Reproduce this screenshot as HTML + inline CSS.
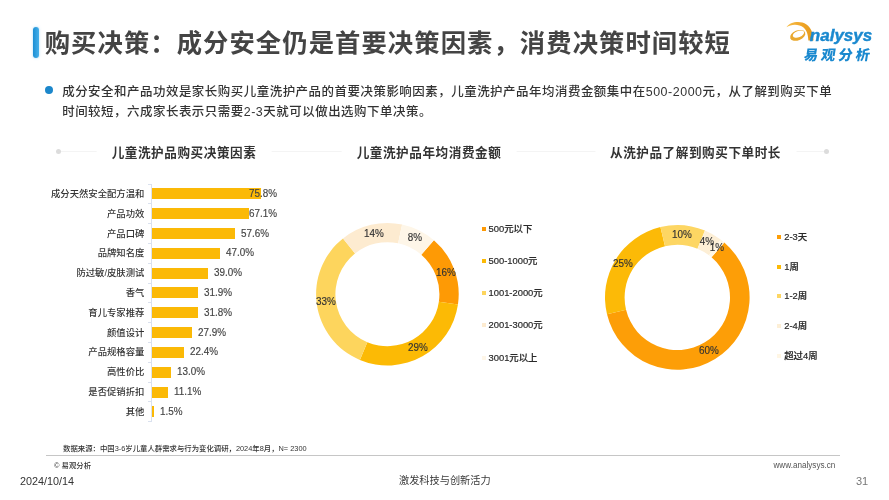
<!DOCTYPE html>
<html lang="zh"><head><meta charset="utf-8"><title>购买决策</title>
<style>
html,body{margin:0;padding:0;background:#fff;}
body{width:889px;height:500px;position:relative;overflow:hidden;font-family:"Liberation Sans","Noto Sans CJK SC",sans-serif;color:#333;font-weight:500;}
.abs{position:absolute;white-space:nowrap;}
.tbar{position:absolute;left:32.5px;top:27.1px;width:6.7px;height:30.9px;border-radius:3.3px;background:linear-gradient(90deg,#1b8ed4,#45b0ea);box-shadow:0 0 2.5px rgba(90,185,240,0.55);}
.title{left:44.7px;top:24.3px;font-size:25.3px;font-weight:bold;color:#444;line-height:38px;letter-spacing:1.1px;}
.dot{position:absolute;left:45.4px;top:86.3px;width:7.8px;height:7.8px;border-radius:50%;background:#1c87cb;}
.sub{left:62.2px;letter-spacing:0.53px;font-size:12.45px;line-height:20px;color:#333;}
.ct{font-size:12.6px;letter-spacing:0.56px;font-weight:bold;color:#333;line-height:18px;text-align:center;transform:translateX(-50%);}
.bl{position:absolute;right:744.6px;font-size:9.35px;line-height:16px;white-space:nowrap;color:#333;}
.bar{position:absolute;left:152px;height:11px;background:#FBB906;}
.bv{position:absolute;font-size:10.1px;line-height:16px;color:#444;white-space:nowrap;transform-origin:0 50%;transform:scaleX(0.98);-webkit-text-stroke:0.15px #444;}
.lg{position:absolute;font-size:9.38px;line-height:14px;color:#2a2a2a;white-space:nowrap;-webkit-text-stroke:0.2px #2a2a2a;}
.lg i{display:inline-block;width:4px;height:4px;margin-right:3px;vertical-align:1px;}
.pv{position:absolute;font-size:10.1px;line-height:12px;color:#333;white-space:nowrap;transform:translate(-50%,-50%) scaleX(0.98);-webkit-text-stroke:0.15px #333;}
</style></head><body>
<div class="tbar"></div>
<div class="abs title">购买决策：成分安全仍是首要决策因素，消费决策时间较短</div>
<div class="dot"></div>
<div class="abs sub" style="top:82px">成分安全和产品功效是家长购买儿童洗护产品的首要决策影响因素，儿童洗护产品年均消费金额集中在500-2000元，从了解到购买下单</div>
<div class="abs sub" style="top:102px">时间较短，六成家长表示只需要2-3天就可以做出选购下单决策。</div>

<!-- logo -->
<svg class="abs" style="left:780px;top:15px" width="100" height="55" viewBox="780 15 100 55"><title>analysys 易观分析</title>
<defs><linearGradient id="lg1" x1="0" y1="0" x2="1" y2="0"><stop offset="0" stop-color="#F6BE4A"/><stop offset="0.6" stop-color="#EFA426"/><stop offset="1" stop-color="#E39A1E"/></linearGradient></defs>
<path d="M786.5 27.3C790 21.8 800 20.3 806.5 24.5C811 27.5 813 33 813.6 40.6L808.4 40.6C808 35 807 30.8 803.5 27.6C799 23.8 791 24 786.5 27.3Z" fill="url(#lg1)"/>
<g transform="rotate(-22 797.7 35.4)"><path d="M789.7 35.4a8 4.9 0 1 0 16 0a8 4.9 0 1 0 -16 0ZM792.9 34.5a6 3.2 0 1 1 12 0a6 3.2 0 1 1 -12 0Z" fill="#E9A82E" fill-rule="evenodd"/></g>
<text x="809.8" y="41" font-family="Liberation Sans, sans-serif" font-style="italic" font-weight="bold" font-size="17.4" fill="#1a89cf" stroke="#1a89cf" stroke-width="0.45" textLength="62.5" lengthAdjust="spacingAndGlyphs">nalysys</text>
<text transform="translate(803.2 60) skewX(-9)" font-family="Liberation Sans, Noto Sans CJK SC, sans-serif" font-weight="900" font-size="14.2" fill="#1a89cf" letter-spacing="3.1">易观分析</text>
</svg>

<!-- section header line -->
<div class="abs" style="left:58px;top:150.5px;width:768px;height:1px;background:#f4f4f4"></div>
<div class="abs" style="left:55.5px;top:148.5px;width:5px;height:5px;border-radius:50%;background:#dcdcdc"></div>
<div class="abs" style="left:823.5px;top:148.5px;width:5px;height:5px;border-radius:50%;background:#dcdcdc"></div>
<div class="abs ct" style="left:184px;top:143.8px;background:#fff;padding:0 15px">儿童洗护品购买决策因素</div>
<div class="abs ct" style="left:429px;top:143.8px;background:#fff;padding:0 15px">儿童洗护品年均消费金额</div>
<div class="abs ct" style="left:695.5px;top:143.8px;background:#fff;padding:0 15px">从洗护品了解到购买下单时长</div>

<div class="bl" style="top:185.9px">成分天然安全配方温和</div><div class="bar" style="top:188.4px;width:109.2px"></div><div class="bv" style="top:185.9px;left:249.0px">75.8%</div>
<div class="bl" style="top:205.7px">产品功效</div><div class="bar" style="top:208.2px;width:96.6px"></div><div class="bv" style="top:205.7px;left:249.0px">67.1%</div>
<div class="bl" style="top:225.5px">产品口碑</div><div class="bar" style="top:228.0px;width:82.9px"></div><div class="bv" style="top:225.5px;left:240.9px">57.6%</div>
<div class="bl" style="top:245.3px">品牌知名度</div><div class="bar" style="top:247.8px;width:67.7px"></div><div class="bv" style="top:245.3px;left:225.7px">47.0%</div>
<div class="bl" style="top:265.1px">防过敏/皮肤测试</div><div class="bar" style="top:267.6px;width:56.2px"></div><div class="bv" style="top:265.1px;left:214.2px">39.0%</div>
<div class="bl" style="top:284.9px">香气</div><div class="bar" style="top:287.4px;width:45.9px"></div><div class="bv" style="top:284.9px;left:203.9px">31.9%</div>
<div class="bl" style="top:304.8px">育儿专家推荐</div><div class="bar" style="top:307.3px;width:45.8px"></div><div class="bv" style="top:304.8px;left:203.8px">31.8%</div>
<div class="bl" style="top:324.6px">颜值设计</div><div class="bar" style="top:327.1px;width:40.2px"></div><div class="bv" style="top:324.6px;left:198.2px">27.9%</div>
<div class="bl" style="top:344.4px">产品规格容量</div><div class="bar" style="top:346.9px;width:32.3px"></div><div class="bv" style="top:344.4px;left:190.3px">22.4%</div>
<div class="bl" style="top:364.2px">高性价比</div><div class="bar" style="top:366.7px;width:18.7px"></div><div class="bv" style="top:364.2px;left:176.7px">13.0%</div>
<div class="bl" style="top:384.0px">是否促销折扣</div><div class="bar" style="top:386.5px;width:16.0px"></div><div class="bv" style="top:384.0px;left:174.0px">11.1%</div>
<div class="bl" style="top:403.8px">其他</div><div class="bar" style="top:406.3px;width:2.2px"></div><div class="bv" style="top:403.8px;left:160.2px">1.5%</div>
<div class="abs" style="left:151px;top:184px;width:1px;height:237.7px;background:#dae1ee"></div>
<div class="abs" style="left:148px;top:183.5px;width:3.5px;height:1px;background:#dae1ee"></div>
<div class="abs" style="left:148px;top:203.3px;width:3.5px;height:1px;background:#dae1ee"></div>
<div class="abs" style="left:148px;top:223.1px;width:3.5px;height:1px;background:#dae1ee"></div>
<div class="abs" style="left:148px;top:242.9px;width:3.5px;height:1px;background:#dae1ee"></div>
<div class="abs" style="left:148px;top:262.7px;width:3.5px;height:1px;background:#dae1ee"></div>
<div class="abs" style="left:148px;top:282.6px;width:3.5px;height:1px;background:#dae1ee"></div>
<div class="abs" style="left:148px;top:302.4px;width:3.5px;height:1px;background:#dae1ee"></div>
<div class="abs" style="left:148px;top:322.2px;width:3.5px;height:1px;background:#dae1ee"></div>
<div class="abs" style="left:148px;top:342.0px;width:3.5px;height:1px;background:#dae1ee"></div>
<div class="abs" style="left:148px;top:361.8px;width:3.5px;height:1px;background:#dae1ee"></div>
<div class="abs" style="left:148px;top:381.6px;width:3.5px;height:1px;background:#dae1ee"></div>
<div class="abs" style="left:148px;top:401.4px;width:3.5px;height:1px;background:#dae1ee"></div>
<div class="abs" style="left:148px;top:421.2px;width:3.5px;height:1px;background:#dae1ee"></div>

<svg class="abs" style="left:0;top:0" width="889" height="500" viewBox="0 0 889 500">
<path d="M433.89 240.15A71.3 71.3 0 0 1 457.95 304.49L438.86 301.71A52 52 0 0 0 421.31 254.78Z" fill="#FE9A05"/>
<path d="M457.95 304.49A71.3 71.3 0 0 1 359.88 359.98L367.33 342.17A52 52 0 0 0 438.86 301.71Z" fill="#FCBA05"/>
<path d="M359.88 359.98A71.3 71.3 0 0 1 343.01 238.40L355.03 253.50A52 52 0 0 0 367.33 342.17Z" fill="#FDD55D"/>
<path d="M343.01 238.40A71.3 71.3 0 0 1 402.10 224.43L398.12 243.32A52 52 0 0 0 355.03 253.50Z" fill="#FDEBD0"/>
<path d="M402.10 224.43A71.3 71.3 0 0 1 433.89 240.15L421.31 254.78A52 52 0 0 0 398.12 243.32Z" fill="#FEF6E8"/>
<path d="M724.26 242.42A72.3 72.3 0 1 1 607.00 314.28L626.06 309.70A52.7 52.7 0 1 0 711.53 257.33Z" fill="#FD9E07"/>
<path d="M607.00 314.28A72.3 72.3 0 0 1 660.42 227.10L665.00 246.16A52.7 52.7 0 0 0 626.06 309.70Z" fill="#FCBA07"/>
<path d="M660.42 227.10A72.3 72.3 0 0 1 704.97 230.60L697.47 248.71A52.7 52.7 0 0 0 665.00 246.16Z" fill="#FDD663"/>
<path d="M704.97 230.60A72.3 72.3 0 0 1 720.71 239.58L708.94 255.26A52.7 52.7 0 0 0 697.47 248.71Z" fill="#FDEFD6"/>
<path d="M720.71 239.58A72.3 72.3 0 0 1 724.26 242.42L711.53 257.33A52.7 52.7 0 0 0 708.94 255.26Z" fill="#FFF6E4"/>

</svg>

<div class="pv" style="left:445.7px;top:273px">16%</div>
<div class="pv" style="left:417.8px;top:348.4px">29%</div>
<div class="pv" style="left:325.8px;top:301.8px">33%</div>
<div class="pv" style="left:373.9px;top:233.9px">14%</div>
<div class="pv" style="left:415.1px;top:238.4px">8%</div>
<div class="pv" style="left:709.2px;top:351.2px">60%</div>
<div class="pv" style="left:623.4px;top:263.6px">25%</div>
<div class="pv" style="left:682.3px;top:235px">10%</div>
<div class="pv" style="left:707px;top:241.8px">4%</div>
<div class="pv" style="left:717.3px;top:247.5px">1%</div>
<div class="lg" style="left:481.5px;top:221.6px"><i style="background:#FE9A05"></i>500元以下</div>
<div class="lg" style="left:481.5px;top:253.7px"><i style="background:#FCBA05"></i>500-1000元</div>
<div class="lg" style="left:481.5px;top:286px"><i style="background:#FDD55D"></i>1001-2000元</div>
<div class="lg" style="left:481.5px;top:318.2px"><i style="background:#FDEBD0"></i>2001-3000元</div>
<div class="lg" style="left:481.5px;top:350.6px"><i style="background:#FEF6E8"></i>3001元以上</div>

<div class="lg" style="left:777.2px;top:230px"><i style="background:#FD9E07"></i>2-3天</div>
<div class="lg" style="left:777.2px;top:259.8px"><i style="background:#FCBA07"></i>1周</div>
<div class="lg" style="left:777.2px;top:289px"><i style="background:#FDD663"></i>1-2周</div>
<div class="lg" style="left:777.2px;top:319.4px"><i style="background:#FDEFD6"></i>2-4周</div>
<div class="lg" style="left:777.2px;top:349px"><i style="background:#FFF6E4"></i>超过4周</div>

<div class="abs" style="left:63px;top:442.7px;font-size:7.38px;line-height:11px;color:#333">数据来源：中国3-6岁儿童人群需求与行为变化调研，2024年8月，N= 2300</div>
<div class="abs" style="left:45.5px;top:455.2px;width:794.5px;height:1px;background:#c6c6c6"></div>
<div class="abs" style="left:54px;top:460px;font-size:7.4px;line-height:11px;color:#333">© 易观分析</div>
<div class="abs" style="left:773.5px;top:460px;font-size:8.15px;line-height:11px;color:#555">www.analysys.cn</div>
<div class="abs" style="left:20px;top:473.7px;font-size:10.8px;line-height:15px;color:#333">2024/10/14</div>
<div class="abs" style="left:444.8px;top:473px;font-size:10.2px;line-height:15px;color:#3a3a3a;font-weight:400;transform:translateX(-50%)">激发科技与创新活力</div>
<div class="abs" style="left:856px;top:474px;font-size:11px;line-height:15px;color:#777;font-weight:400">31</div>
</body></html>
